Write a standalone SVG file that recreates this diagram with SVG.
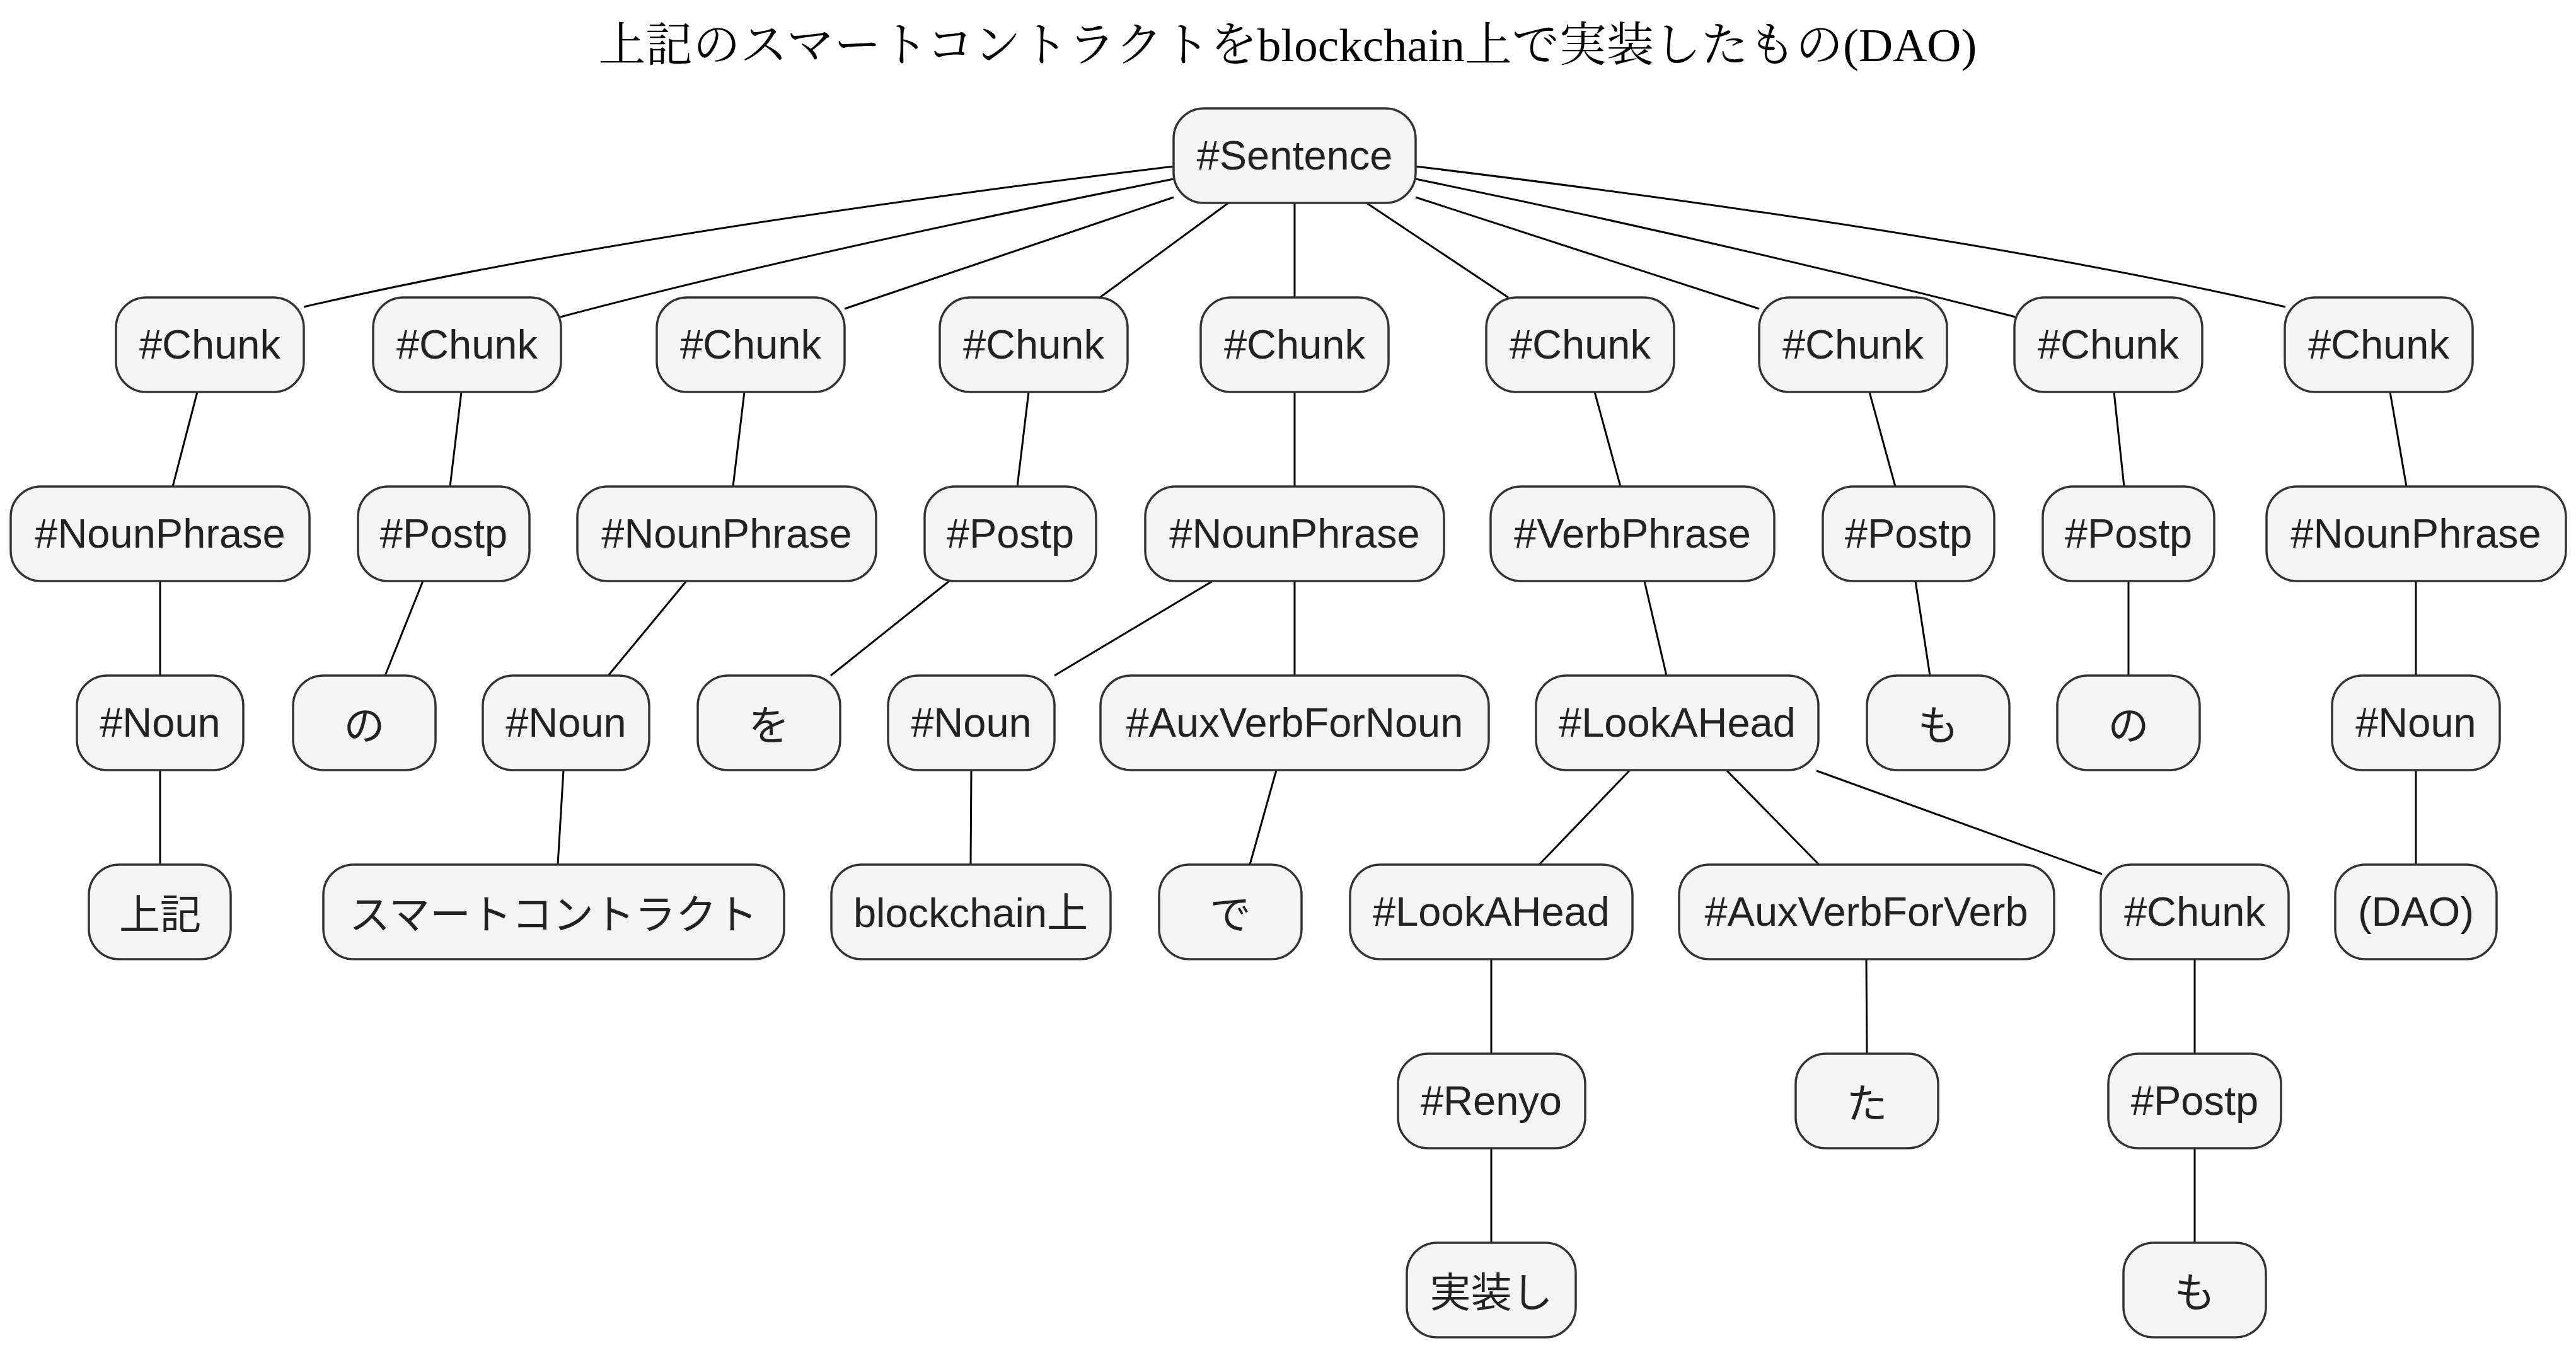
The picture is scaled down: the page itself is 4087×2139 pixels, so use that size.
<svg xmlns="http://www.w3.org/2000/svg" width="4087" height="2139" viewBox="0 0 4087 2139">
<style>
.bg{fill:#ffffff}
.n{fill:#f4f4f4;stroke:#333333;stroke-width:3.5}
.t{font-family:"Liberation Sans","Noto Sans CJK JP",Arial,sans-serif;font-size:65px;fill:#222222;text-anchor:middle}
.e{fill:none;stroke:#000000;stroke-width:3}
.title{font-family:"Liberation Serif","Noto Serif CJK JP","Noto Sans CJK JP",serif;font-size:75px;fill:#000000;text-anchor:middle}
</style>
<rect class="bg" x="0" y="0" width="4087" height="2139"/>
<text class="title" x="2043" y="97">上記のスマートコントラクトをblockchain上で実装したもの(DAO)</text>
<g id="connectors">
<path class="e" d="M1862,264 Q986,370 482,487"/>
<path class="e" d="M1862,284 Q1277,400 889,503"/>
<path class="e" d="M1862,313 L1340,490"/>
<path class="e" d="M1949,322 L1745,472"/>
<path class="e" d="M2054,322 L2054,472"/>
<path class="e" d="M2168,322 L2393,472"/>
<path class="e" d="M2246,313 L2791,490"/>
<path class="e" d="M2246,284 Q2726,382 3198,503"/>
<path class="e" d="M2246,264 Q3123,370 3626,487"/>
<path class="e" d="M313,622 L274,772"/>
<path class="e" d="M732,622 L714,772"/>
<path class="e" d="M1181,622 L1163,772"/>
<path class="e" d="M1632,622 L1614,772"/>
<path class="e" d="M2054,622 L2054,772"/>
<path class="e" d="M2530,622 L2571,772"/>
<path class="e" d="M2966,622 L3007,772"/>
<path class="e" d="M3354,622 L3370,772"/>
<path class="e" d="M3792,622 L3818,772"/>
<path class="e" d="M254,922 L254,1072"/>
<path class="e" d="M671,922 L611,1072"/>
<path class="e" d="M1089,922 L965,1072"/>
<path class="e" d="M1506,922 L1318,1072"/>
<path class="e" d="M1924,922 L1673,1072"/>
<path class="e" d="M2054,922 L2054,1072"/>
<path class="e" d="M2609,922 L2644,1072"/>
<path class="e" d="M3039,922 L3062,1072"/>
<path class="e" d="M3377,922 L3377,1072"/>
<path class="e" d="M3833,922 L3833,1072"/>
<path class="e" d="M254,1222 L254,1372"/>
<path class="e" d="M894,1222 L885,1372"/>
<path class="e" d="M1541,1222 L1540,1372"/>
<path class="e" d="M2025,1222 L1983,1372"/>
<path class="e" d="M2586,1222 L2442,1372"/>
<path class="e" d="M2739,1222 L2886,1372"/>
<path class="e" d="M2882,1223 L3335,1387"/>
<path class="e" d="M3833,1222 L3833,1372"/>
<path class="e" d="M2366,1522 L2366,1672"/>
<path class="e" d="M2961,1522 L2962,1672"/>
<path class="e" d="M3482,1522 L3482,1672"/>
<path class="e" d="M2366,1822 L2366,1972"/>
<path class="e" d="M3482,1822 L3482,1972"/>
</g>
<g id="n-sentence"><rect class="n" x="1862" y="172" width="384" height="150" rx="48"/><text class="t" x="2054" y="269">#Sentence</text></g>
<g id="n-chunk1"><rect class="n" x="184" y="472" width="298" height="150" rx="48"/><text class="t" x="333" y="569">#Chunk</text></g>
<g id="n-chunk2"><rect class="n" x="592" y="472" width="298" height="150" rx="48"/><text class="t" x="741" y="569">#Chunk</text></g>
<g id="n-chunk3"><rect class="n" x="1042" y="472" width="298" height="150" rx="48"/><text class="t" x="1191" y="569">#Chunk</text></g>
<g id="n-chunk4"><rect class="n" x="1491" y="472" width="298" height="150" rx="48"/><text class="t" x="1640" y="569">#Chunk</text></g>
<g id="n-chunk5"><rect class="n" x="1905" y="472" width="298" height="150" rx="48"/><text class="t" x="2054" y="569">#Chunk</text></g>
<g id="n-chunk6"><rect class="n" x="2358" y="472" width="298" height="150" rx="48"/><text class="t" x="2507" y="569">#Chunk</text></g>
<g id="n-chunk7"><rect class="n" x="2791" y="472" width="298" height="150" rx="48"/><text class="t" x="2940" y="569">#Chunk</text></g>
<g id="n-chunk8"><rect class="n" x="3196" y="472" width="298" height="150" rx="48"/><text class="t" x="3345" y="569">#Chunk</text></g>
<g id="n-chunk9"><rect class="n" x="3625" y="472" width="298" height="150" rx="48"/><text class="t" x="3774" y="569">#Chunk</text></g>
<g id="n-np1"><rect class="n" x="17" y="772" width="474" height="150" rx="48"/><text class="t" x="254" y="869">#NounPhrase</text></g>
<g id="n-postp2"><rect class="n" x="568" y="772" width="272" height="150" rx="48"/><text class="t" x="704" y="869">#Postp</text></g>
<g id="n-np3"><rect class="n" x="916" y="772" width="474" height="150" rx="48"/><text class="t" x="1153" y="869">#NounPhrase</text></g>
<g id="n-postp4"><rect class="n" x="1467" y="772" width="272" height="150" rx="48"/><text class="t" x="1603" y="869">#Postp</text></g>
<g id="n-np5"><rect class="n" x="1817" y="772" width="474" height="150" rx="48"/><text class="t" x="2054" y="869">#NounPhrase</text></g>
<g id="n-vp"><rect class="n" x="2365" y="772" width="450" height="150" rx="48"/><text class="t" x="2590" y="869">#VerbPhrase</text></g>
<g id="n-postp7"><rect class="n" x="2892" y="772" width="272" height="150" rx="48"/><text class="t" x="3028" y="869">#Postp</text></g>
<g id="n-postp8"><rect class="n" x="3241" y="772" width="272" height="150" rx="48"/><text class="t" x="3377" y="869">#Postp</text></g>
<g id="n-np9"><rect class="n" x="3596" y="772" width="475" height="150" rx="48"/><text class="t" x="3833" y="869">#NounPhrase</text></g>
<g id="n-noun1"><rect class="n" x="122" y="1072" width="264" height="150" rx="48"/><text class="t" x="254" y="1169">#Noun</text></g>
<g id="n-no1"><rect class="n" x="465" y="1072" width="226" height="150" rx="48"/><text class="t" x="578" y="1174">の</text></g>
<g id="n-noun3"><rect class="n" x="766" y="1072" width="264" height="150" rx="48"/><text class="t" x="898" y="1169">#Noun</text></g>
<g id="n-wo"><rect class="n" x="1107" y="1072" width="226" height="150" rx="48"/><text class="t" x="1220" y="1174">を</text></g>
<g id="n-noun5"><rect class="n" x="1409" y="1072" width="264" height="150" rx="48"/><text class="t" x="1541" y="1169">#Noun</text></g>
<g id="n-avn"><rect class="n" x="1746" y="1072" width="616" height="150" rx="48"/><text class="t" x="2054" y="1169">#AuxVerbForNoun</text></g>
<g id="n-la1"><rect class="n" x="2437" y="1072" width="448" height="150" rx="48"/><text class="t" x="2661" y="1169">#LookAHead</text></g>
<g id="n-mo1"><rect class="n" x="2962" y="1072" width="226" height="150" rx="48"/><text class="t" x="3075" y="1174">も</text></g>
<g id="n-no2"><rect class="n" x="3264" y="1072" width="226" height="150" rx="48"/><text class="t" x="3377" y="1174">の</text></g>
<g id="n-noun9"><rect class="n" x="3700" y="1072" width="266" height="150" rx="48"/><text class="t" x="3833" y="1169">#Noun</text></g>
<g id="n-joki"><rect class="n" x="141" y="1372" width="225" height="150" rx="48"/><text class="t" x="254" y="1474">上記</text></g>
<g id="n-sc"><rect class="n" x="513" y="1372" width="731" height="150" rx="48"/><text class="t" x="878" y="1474">スマートコントラクト</text></g>
<g id="n-bc"><rect class="n" x="1319" y="1372" width="443" height="150" rx="48"/><text class="t" x="1540" y="1471">blockchain上</text></g>
<g id="n-de"><rect class="n" x="1839" y="1372" width="226" height="150" rx="48"/><text class="t" x="1952" y="1474">で</text></g>
<g id="n-la2"><rect class="n" x="2142" y="1372" width="448" height="150" rx="48"/><text class="t" x="2366" y="1469">#LookAHead</text></g>
<g id="n-avv"><rect class="n" x="2664" y="1372" width="595" height="150" rx="48"/><text class="t" x="2961" y="1469">#AuxVerbForVerb</text></g>
<g id="n-chunk10"><rect class="n" x="3333" y="1372" width="298" height="150" rx="48"/><text class="t" x="3482" y="1469">#Chunk</text></g>
<g id="n-dao"><rect class="n" x="3705" y="1372" width="256" height="150" rx="48"/><text class="t" x="3833" y="1469">(DAO)</text></g>
<g id="n-renyo"><rect class="n" x="2218" y="1672" width="297" height="150" rx="48"/><text class="t" x="2366" y="1769">#Renyo</text></g>
<g id="n-ta"><rect class="n" x="2849" y="1672" width="226" height="150" rx="48"/><text class="t" x="2962" y="1774">た</text></g>
<g id="n-postp10"><rect class="n" x="3345" y="1672" width="274" height="150" rx="48"/><text class="t" x="3482" y="1769">#Postp</text></g>
<g id="n-jissou"><rect class="n" x="2232" y="1972" width="268" height="150" rx="48"/><text class="t" x="2366" y="2074">実装し</text></g>
<g id="n-mo2"><rect class="n" x="3369" y="1972" width="226" height="150" rx="48"/><text class="t" x="3482" y="2074">も</text></g>
</svg>
